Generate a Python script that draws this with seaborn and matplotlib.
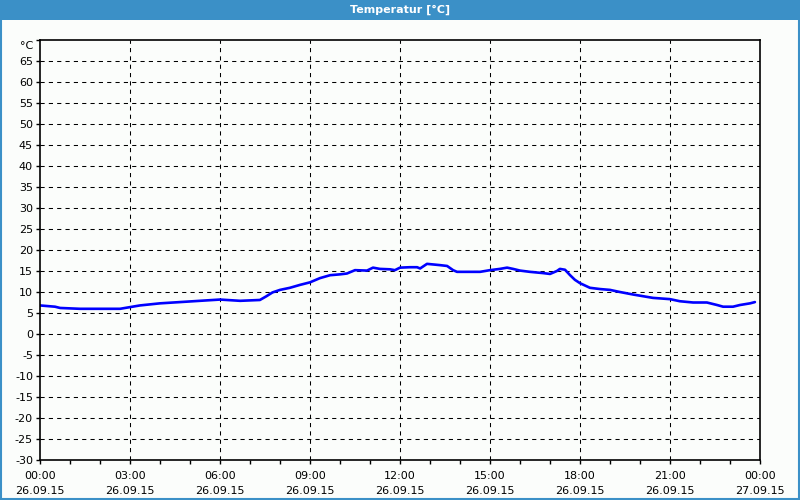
import matplotlib
matplotlib.use("Agg")
import matplotlib.pyplot as plt
import matplotlib.patches as mpatches
import matplotlib.transforms as mtransforms
import numpy as np
import pandas as pd
import seaborn as sns

# hours since 26.09.15 00:00 and temperature
hours = [0.0, 0.5, 0.67, 1.33, 2.67, 3.0, 3.33, 4.0, 4.67, 5.33, 6.0, 6.67,
         7.33, 7.55, 7.75, 8.0, 8.33, 8.67, 9.0, 9.33, 9.67, 10.0, 10.23,
         10.5, 10.9, 11.1, 11.33, 11.67, 11.83, 12.0, 12.33, 12.57, 12.67,
         12.9, 13.33, 13.57, 13.77, 13.9, 14.67, 15.0, 15.33, 15.57, 15.77,
         16.0, 16.33, 16.77, 17.0, 17.23, 17.33, 17.5, 17.67, 17.83, 18.0,
         18.33, 18.67, 19.0, 19.33, 19.77, 20.1, 20.43, 21.0, 21.33, 21.77,
         22.23, 22.57, 22.77, 23.1, 23.33, 23.67, 23.83]
temps = [6.8, 6.5, 6.2, 6.0, 6.0, 6.4, 6.8, 7.3, 7.6, 7.9, 8.2, 7.9,
         8.1, 9.0, 9.9, 10.5, 11.0, 11.7, 12.3, 13.3, 14.0, 14.2, 14.4,
         15.2, 15.1, 15.8, 15.5, 15.4, 15.2, 15.8, 15.9, 15.9, 15.6,
         16.7, 16.4, 16.2, 15.2, 14.8, 14.8, 15.2, 15.5, 15.8, 15.5,
         15.1, 14.8, 14.5, 14.3, 15.0, 15.5, 15.3, 14.0, 12.9, 12.1,
         11.0, 10.7, 10.5, 10.0, 9.4, 9.0, 8.6, 8.3, 7.8, 7.5,
         7.5, 6.9, 6.5, 6.5, 6.9, 7.3, 7.6]

y_ticks = list(range(-30, 71, 5))
y_labels = [str(v) for v in y_ticks[:-1]] + ["°C"]
x_ticks = list(range(0, 25, 3))
x_labels = [f"{h % 24:02d}:00\n{'27' if h == 24 else '26'}.09.15" for h in x_ticks]

df = pd.DataFrame({"hour": hours, "temp": temps})

sns.set_style("white")
plt.rcParams["font.family"] = ["DejaVu Sans"]

bg = "#fbfdfb"
blue_bar = "#3b90c7"

fig = plt.figure(figsize=(8, 5), dpi=100, facecolor=bg)
ax = fig.add_axes([0.05, 0.08, 0.9, 0.84])
ax.set_facecolor(bg)

sns.lineplot(data=df, x="hour", y="temp", ax=ax, color="#0000ff", linewidth=1.9)

ax.set_xlim(0, 24)
ax.set_ylim(-30, 70)
ax.set_xticks(x_ticks)
ax.set_xticklabels(x_labels, linespacing=1.6)
ax.set_xticks(range(0, 25), minor=True)
ax.set_yticks(y_ticks)
ax.set_yticklabels(y_labels)
ax.set_xlabel("")
ax.set_ylabel("")

ax.tick_params(axis="both", which="both", length=3, width=1, color="black",
               labelsize=8, labelcolor="black", pad=2, direction="out",
               bottom=True, left=True)
ax.tick_params(axis="x", pad=5)

# the unit label sits a little below the top edge
unit_lbl = ax.get_yticklabels()[-1]
unit_lbl.set_transform(unit_lbl.get_transform() +
                       mtransforms.ScaledTranslation(0, -5 / 100, fig.dpi_scale_trans))

for h in x_ticks[1:-1]:
    ax.axvline(h, color="black", linewidth=0.75, linestyle=(0, (4, 4)), zorder=1)
for v in y_ticks[1:-1]:
    ax.axhline(v, color="black", linewidth=0.75, linestyle=(0, (4, 4)), zorder=1)

for s in ax.spines.values():
    s.set_visible(True)
    s.set_color("black")
    s.set_linewidth(1.2)

# title bar and window border
fig.patches.append(mpatches.Rectangle((0, 0.96), 1, 0.04, transform=fig.transFigure,
                                      facecolor=blue_bar, edgecolor="none", zorder=0))
fig.patches.append(mpatches.Rectangle((0.001, 0.003), 0.998, 0.99, transform=fig.transFigure,
                                      facecolor="none", edgecolor=blue_bar, linewidth=1.5))
fig.text(0.5, 0.98, "Temperatur [°C]", ha="center", va="center", color="white",
         fontsize=8, fontweight="bold")

fig.savefig("out.png", dpi=100, facecolor=bg)
